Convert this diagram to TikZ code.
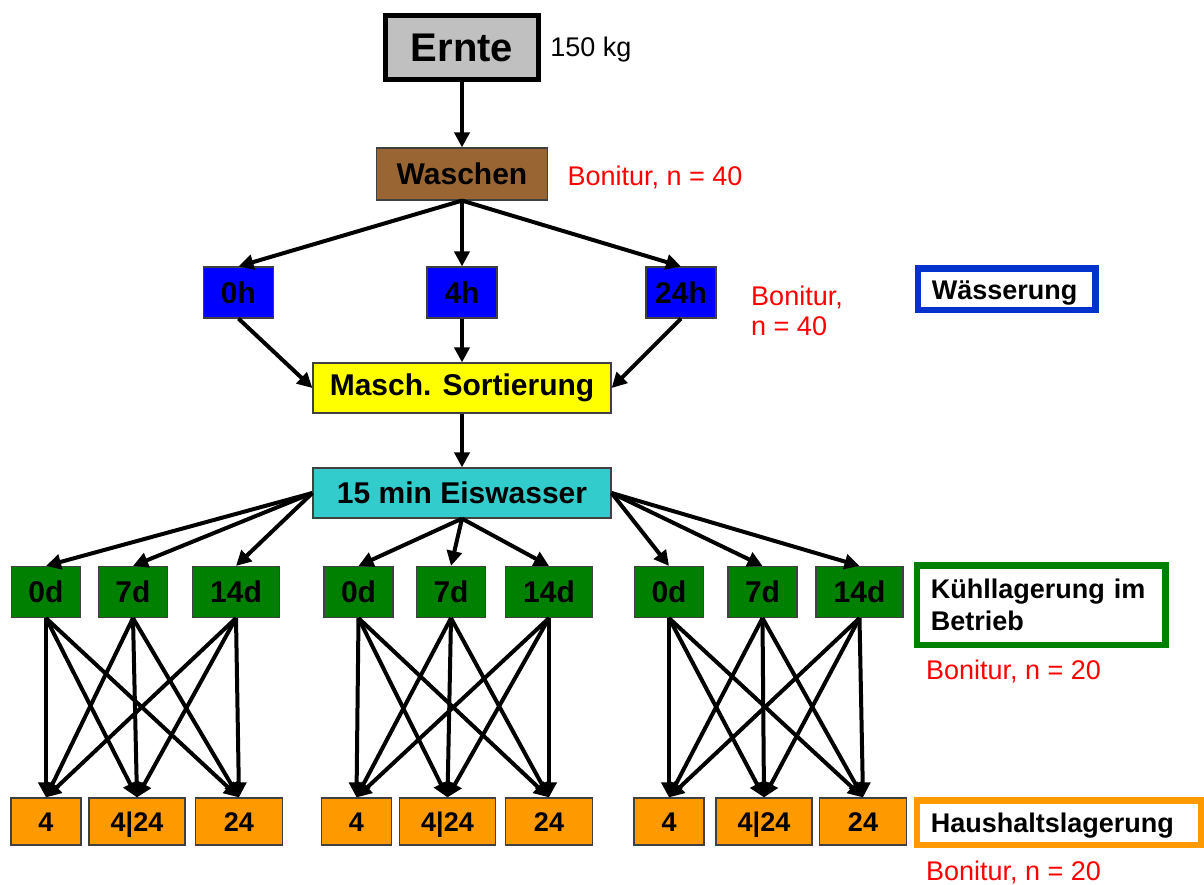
\documentclass[tikz,border=0pt]{standalone}
\usepackage{fontspec}
\setmainfont{Liberation Sans}
\usepackage{xcolor}
\usepackage{tikz}
\usetikzlibrary{arrows.meta}

\definecolor{grau}{HTML}{C0C0C0}
\definecolor{braun}{HTML}{996633}
\definecolor{blau}{HTML}{0000FF}
\definecolor{legblau}{HTML}{0033CC}
\definecolor{gelb}{HTML}{FFFF00}
\definecolor{tuerkis}{HTML}{33CCCC}
\definecolor{gruen}{HTML}{008000}
\definecolor{orange}{HTML}{FF9900}
\definecolor{rot}{HTML}{FF0000}

\begin{document}
\begin{tikzpicture}[x=0.5pt,y=-0.5pt,node distance=50pt]
      \useasboundingbox (0,0) rectangle (1204,884);

      \tikzset{box/.style={rectangle,draw=black!75,line width=0.6pt,inner sep=2pt,font=\fontsize{15}{18}\selectfont\bfseries}}
      \tikzset{ernte/.style={rectangle,draw=black,line width=2.5pt,fill=grau,minimum width=76.5pt,minimum height=32pt,font=\fontsize{20}{24}\selectfont\bfseries}}
      \tikzset{wasch/.style={box,fill=braun,minimum width=85.5pt,minimum height=26pt}}
      \tikzset{wass/.style={box,fill=blau,minimum width=35pt,minimum height=25.5pt}}
      \tikzset{proc/.style={box,minimum width=149pt,minimum height=25pt}}
      \tikzset{kuehl/.style={box,fill=gruen,minimum width=34.5pt,minimum height=25.5pt}}
      \tikzset{haus/.style={box,fill=orange,minimum width=35pt,minimum height=23.5pt,text height=10pt,text depth=0pt,font=\fontsize{13.5}{16}\selectfont\bfseries}}
      \tikzset{leg/.style={rectangle,draw,line width=3.25pt,fill=white,align=left,inner xsep=7pt,inner ysep=0pt,font=\fontsize{13.5}{16}\selectfont\bfseries}}
      \tikzset{txt/.style={inner sep=0pt,align=left,font=\fontsize{13.5}{15}\selectfont}}
      \tikzset{bon/.style={txt,text=rot}}
      \tikzset{pfeil/.style={-{Triangle[length=7.5pt,width=7.5pt]},line width=2pt}}

      % Ernte und Waschen
      \node[ernte] (ernte) at (462,47.5) {Ernte};
      \node[txt] (kg) [right of=ernte,xshift=14.5pt,yshift=-1pt] {150 kg};
      \node[wasch] (wasch) [below of=ernte,yshift=-13.25pt] {Waschen};
      \node[bon] (bon1) [right of=wasch,xshift=46.5pt,yshift=-1.5pt] {Bonitur, n = 40};

      % Waesserung
      \node[wass] (w4) [below of=wasch,yshift=-9.25pt] {4h};
      \node[wass] (w0) [left of=w4,xshift=-61.75pt] {0h};
      \node[wass] (w24) [right of=w4,xshift=59.5pt] {24h};
      \node[bon] (bon2) [right of=w24,xshift=8pt,yshift=-9pt] {Bonitur,\\n = 40};
      \node[leg,draw=legblau,text width=74.75pt,text height=10pt,text depth=0pt,minimum width=88.75pt,minimum height=20.75pt] (wleg) [right of=w24,xshift=112.75pt,yshift=1.75pt] {Wässerung};

      \node[proc,fill=gelb] (sort) [below of=w4,yshift=2.25pt] {Masch. Sortierung};
      \node[proc,fill=tuerkis] (eis) [below of=sort,yshift=-2.5pt] {15 min Eiswasser};

      % Kuehllagerung
      \node[kuehl] (k2b) [below of=eis,xshift=-5.5pt,yshift=0.5pt] {7d};
      \node[kuehl] (k2a) [left of=k2b,xshift=3.75pt] {0d};
      \node[kuehl,minimum width=43.5pt] (k2c) [right of=k2b,xshift=-1pt] {14d};
      \node[kuehl,minimum width=43.5pt] (k1c) [left of=k2a,xshift=-11.25pt] {14d};
      \node[kuehl] (k1b) [left of=k1c,xshift=-1.5pt] {7d};
      \node[kuehl] (k1a) [left of=k1b,xshift=6.5pt] {0d};
      \node[kuehl] (k3a) [right of=k2c,xshift=10pt] {0d};
      \node[kuehl] (k3b) [right of=k3a,xshift=-3.25pt] {7d};
      \node[kuehl,minimum width=43.5pt] (k3c) [right of=k3b,xshift=-1.5pt] {14d};
      \node[leg,draw=gruen,text width=110.25pt,minimum width=124.25pt,minimum height=39.75pt] (kleg) [right of=k3c,xshift=40.75pt,yshift=-6.5pt] {Kühllagerung im\\Betrieb};
      \node[bon] (bon3) [below of=kleg,xshift=-13.75pt,yshift=17pt] {Bonitur, n = 20};

      % Haushaltslagerung
      \node[haus] (h1a) [below of=k1a,yshift=-64.75pt] {4};
      \node[haus,minimum width=48pt] (h1b) [below of=k1b,xshift=2pt,yshift=-64.75pt] {4|24};
      \node[haus,minimum width=43.5pt] (h1c) [below of=k1c,xshift=1.5pt,yshift=-64.75pt] {24};
      \node[haus] (h2a) [below of=k2a,xshift=-1pt,yshift=-64.75pt] {4};
      \node[haus,minimum width=48pt] (h2b) [below of=k2b,xshift=-1.75pt,yshift=-64.75pt] {4|24};
      \node[haus,minimum width=43.5pt] (h2c) [below of=k2c,yshift=-64.75pt] {24};
      \node[haus] (h3a) [below of=k3a,yshift=-64.75pt] {4};
      \node[haus,minimum width=48pt] (h3b) [below of=k3b,xshift=0.75pt,yshift=-64.75pt] {4|24};
      \node[haus,minimum width=43.5pt] (h3c) [below of=k3c,xshift=1.75pt,yshift=-64.75pt] {24};
      \node[leg,draw=orange,text width=128.25pt,text height=10pt,text depth=0pt,minimum width=142.25pt,minimum height=22.25pt] (hleg) [right of=h3c,xshift=48pt,yshift=-0.5pt] {Haushaltslagerung};
      \node[bon] (bon4) [below of=hleg,xshift=-22.75pt,yshift=25.25pt] {Bonitur, n = 20};

      \draw[pfeil] (ernte) -- (wasch);
      \draw[pfeil] (wasch.south) -- (w0.north);
      \draw[pfeil] (wasch.south) -- (w4.north);
      \draw[pfeil] (wasch.south) -- (w24.north);

      \draw[pfeil] (w0.south) -- (sort.west);
      \draw[pfeil] (w4.south) -- (sort.north);
      \draw[pfeil] (w24.south) -- (sort.east);
      \draw[pfeil] (sort) -- (eis);

      \draw[pfeil] (eis.west) -- (k1a.north);
      \draw[pfeil] (eis.west) -- (k1b.north);
      \draw[pfeil] (eis.west) -- (k1c.north);
      \draw[pfeil] (eis.south) -- (k2a.north);
      \draw[pfeil] (eis.south) -- (k2b.north);
      \draw[pfeil] (eis.south) -- (k2c.north);
      \draw[pfeil] (eis.east) -- (k3a.north);
      \draw[pfeil] (eis.east) -- (k3b.north);
      \draw[pfeil] (eis.east) -- (k3c.north);

      \draw[pfeil] (k1a.south) -- (h1a.north);
      \draw[pfeil] (k1a.south) -- (h1b.north);
      \draw[pfeil] (k1a.south) -- (h1c.north);
      \draw[pfeil] (k1b.south) -- (h1a.north);
      \draw[pfeil] (k1b.south) -- (h1b.north);
      \draw[pfeil] (k1b.south) -- (h1c.north);
      \draw[pfeil] (k1c.south) -- (h1a.north);
      \draw[pfeil] (k1c.south) -- (h1b.north);
      \draw[pfeil] (k1c.south) -- (h1c.north);

      \draw[pfeil] (k2a.south) -- (h2a.north);
      \draw[pfeil] (k2a.south) -- (h2b.north);
      \draw[pfeil] (k2a.south) -- (h2c.north);
      \draw[pfeil] (k2b.south) -- (h2a.north);
      \draw[pfeil] (k2b.south) -- (h2b.north);
      \draw[pfeil] (k2b.south) -- (h2c.north);
      \draw[pfeil] (k2c.south) -- (h2a.north);
      \draw[pfeil] (k2c.south) -- (h2b.north);
      \draw[pfeil] (k2c.south) -- (h2c.north);

      \draw[pfeil] (k3a.south) -- (h3a.north);
      \draw[pfeil] (k3a.south) -- (h3b.north);
      \draw[pfeil] (k3a.south) -- (h3c.north);
      \draw[pfeil] (k3b.south) -- (h3a.north);
      \draw[pfeil] (k3b.south) -- (h3b.north);
      \draw[pfeil] (k3b.south) -- (h3c.north);
      \draw[pfeil] (k3c.south) -- (h3a.north);
      \draw[pfeil] (k3c.south) -- (h3b.north);
      \draw[pfeil] (k3c.south) -- (h3c.north);

    \end{tikzpicture}
\end{document}
